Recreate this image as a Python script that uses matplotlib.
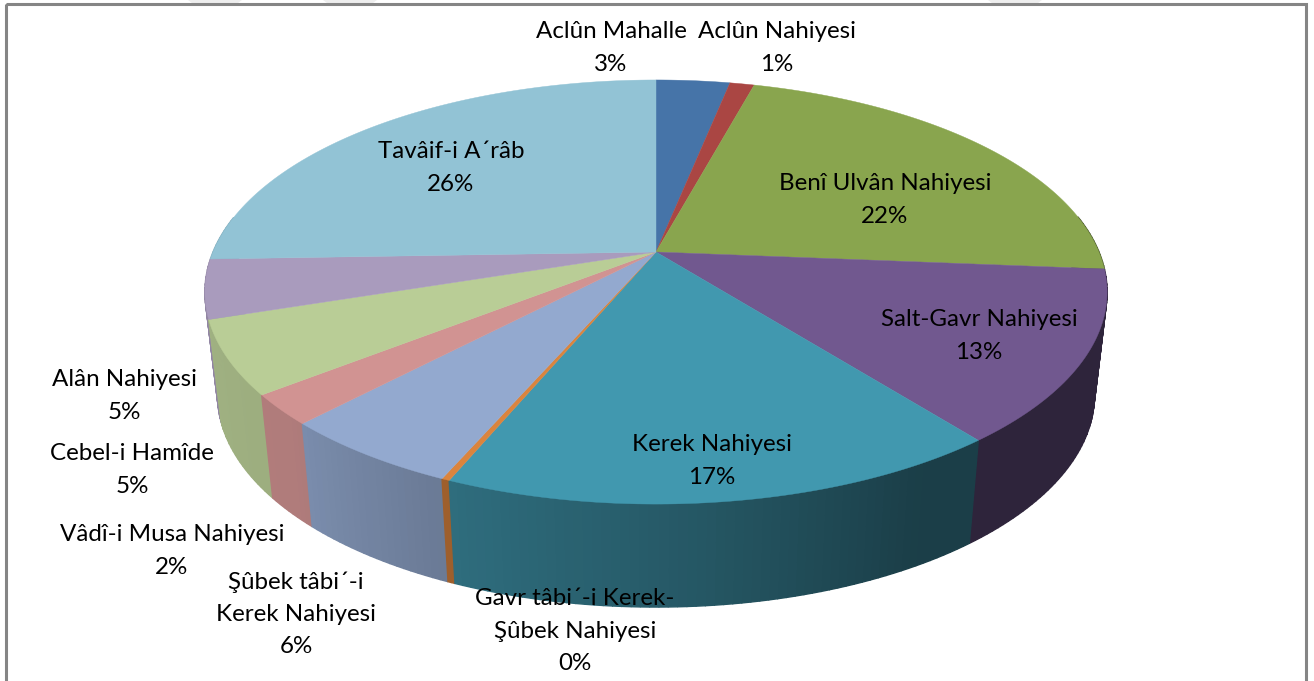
import matplotlib
matplotlib.use('Agg')
import matplotlib.pyplot as plt
import numpy as np

names = ['Aclûn Mahalle', 'Aclûn Nahiyesi', 'Benî Ulvân Nahiyesi', 'Salt-Gavr Nahiyesi',
         'Kerek Nahiyesi', 'Gavr tâbi´-i Kerek-\nŞûbek Nahiyesi', 'Şûbek tâbi´-i\nKerek Nahiyesi',
         'Vâdî-i Musa Nahiyesi', 'Cebel-i Hamîde', 'Alân Nahiyesi', 'Tavâif-i A´râb']
shares = [3.17, 1.05, 22.08, 13.06, 16.94, 0.24, 5.56, 2.3, 5.57, 4.49, 25.54]
pcts = ['3%', '1%', '22%', '13%', '17%', '0%', '6%', '2%', '5%', '5%', '26%']
colors = ['#4674A8', '#AA4643', '#89A54E', '#71588F', '#4198AF', '#DB843D',
          '#93A9CF', '#D19392', '#B9CD96', '#A99BBD', '#92C3D5']
label_pos = [(611, 48), (777, 48), (885, 200), (979, 336), (712, 461), (575, 631),
             (296, 614), (172, 551), (132, 470), (124, 396), (451, 168)]

# pie geometry in pixels, the apex sits above the ellipse middle because of the perspective
cx, cy = 656, 252
a, b, k = 443, 204.5, 0.1887
depth, shrink = 103, 0.972

shade_ang = [90, 150, 180, 203, 225, 270]
shade_val = [0.41, 0.41, 0.60, 0.72, 0.84, 0.88]


def rim(t):
    x = np.sin(t)
    y = np.cos(t)
    w = 1 + k * y
    return cx + a * x / w, cy - b * y / w


def dark(c, f):
    return tuple(v * f for v in matplotlib.colors.to_rgb(c))


plt.rcParams['font.family'] = ['Lato', 'DejaVu Sans']
fig = plt.figure(figsize=(13.14, 6.81), dpi=100)
ax = fig.add_axes([0, 0, 1, 1])
ax.set_xlim(0, 1314)
ax.set_ylim(681, 0)
ax.axis('off')

# faint leftovers from the page at the top edge
for x0 in [188, 323, 988]:
    ax.fill([x0, x0 + 54, x0 + 50, x0 + 4], [0, 0, 3, 3], color='#eeeeee', lw=0)
ax.add_patch(plt.Rectangle((6, 4), 1300, 690, fill=False, ec='#858585', lw=2.2))

edges = np.radians(np.concatenate([[0], np.cumsum(shares)]) * 3.6)

# side wall, back to front, the far half is hidden so it is skipped
strips = []
for i, c in enumerate(colors):
    n = max(2, int(np.degrees(edges[i + 1] - edges[i])) + 1)
    ts = np.linspace(edges[i], edges[i + 1], n + 1)
    for t0, t1 in zip(ts[:-1], ts[1:]):
        strips.append((t0, t1, c))
strips.sort(key=lambda s: np.cos((s[0] + s[1]) / 2), reverse=True)
for t0, t1, c in strips:
    deg = np.degrees((t0 + t1) / 2)
    if deg < 80 or deg > 280:
        continue
    f = np.interp(deg, shade_ang, shade_val)
    x0, y0 = rim(t0)
    x1, y1 = rim(t1)
    xb0 = cx + shrink * (x0 - cx)
    xb1 = cx + shrink * (x1 - cx)
    col = dark(c, f)
    ax.fill([x0, x1, xb1, xb0], [y0, y1, y1 + depth, y0 + depth], color=col, lw=1.0)

# top face
for i, c in enumerate(colors):
    ts = np.linspace(edges[i], edges[i + 1], 80)
    xs, ys = rim(ts)
    ax.fill(np.r_[cx, xs], np.r_[cy, ys], color=c, lw=0.3)

for name, pct, (x, y) in zip(names, pcts, label_pos):
    ax.text(x, y, name + '\n' + pct, ha='center', va='center', fontsize=17.4,
            linespacing=1.65, color='black')

fig.savefig('out.png', dpi=100)
